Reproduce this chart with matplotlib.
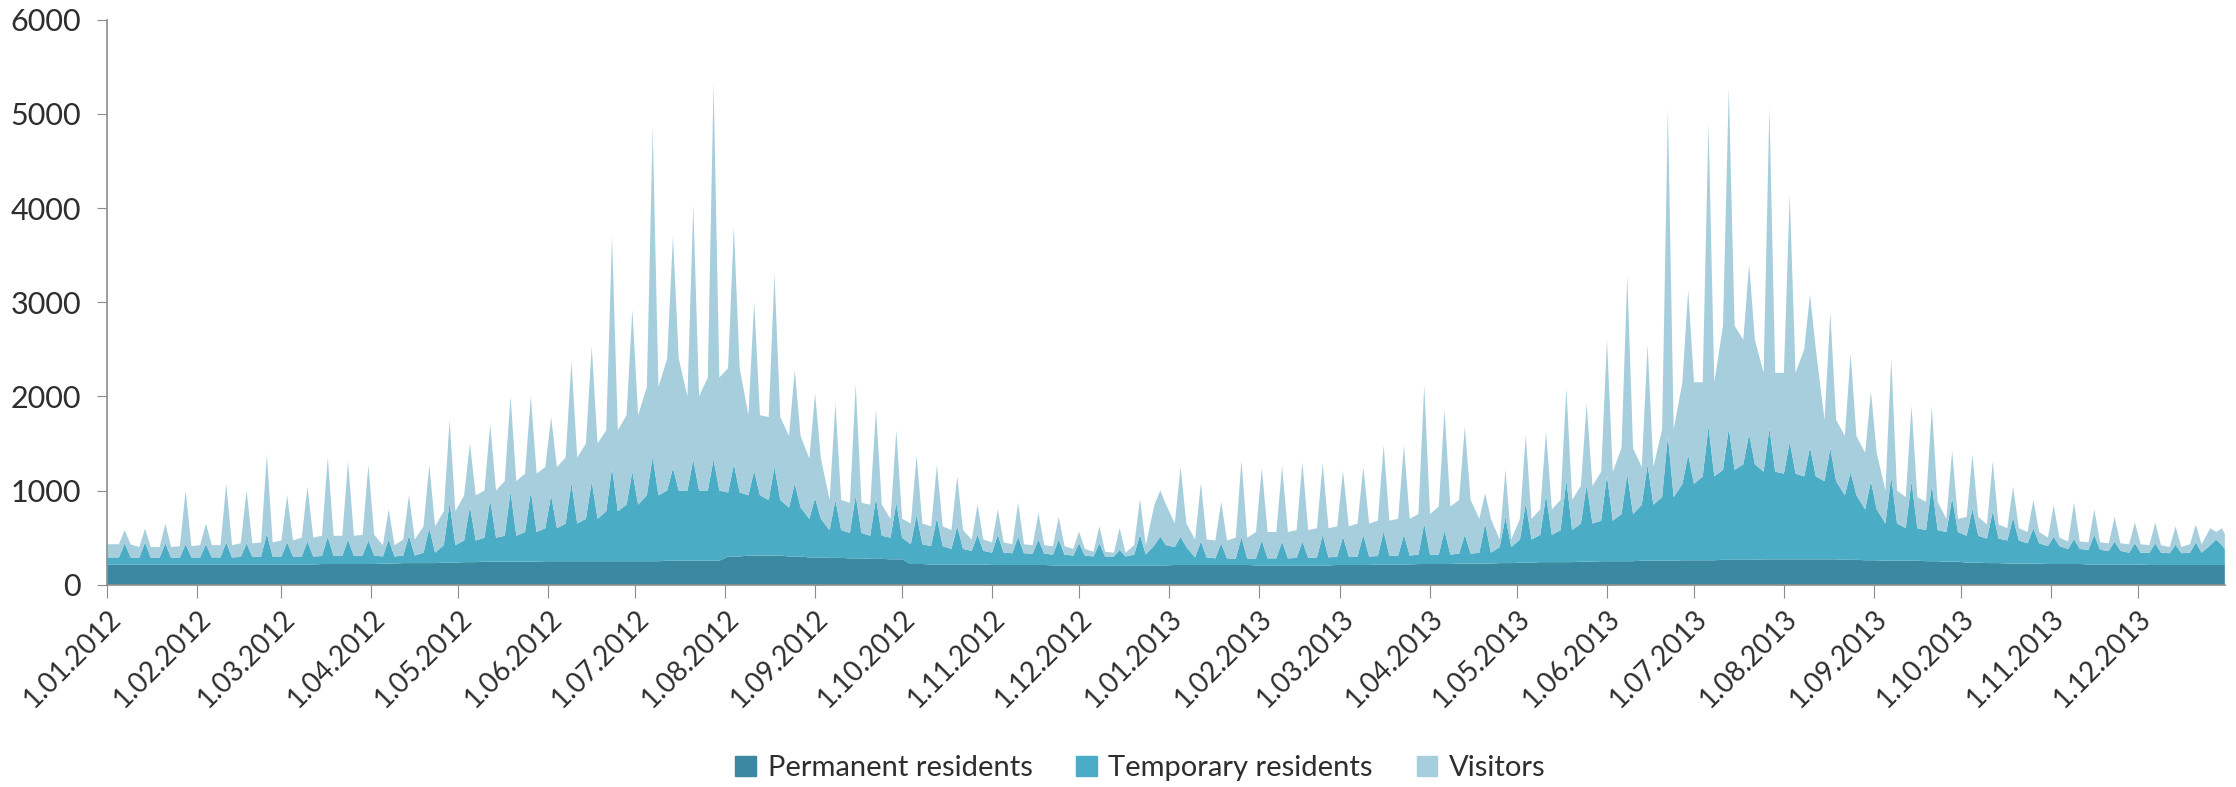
import numpy as np
import pandas as pd
import matplotlib
matplotlib.use('Agg')
import matplotlib.pyplot as plt
from matplotlib.patches import Patch

# readings per week (Sunday..Saturday); the weekly spike falls on the Saturday
perm_week = [215, 215, 215, 215, 215, 215, 215, 215, 215, 215,
             220, 220, 220, 225, 230, 230, 235, 240, 245, 245,
             245, 250, 250, 250, 250, 250, 250, 255, 255, 255,
             300, 310, 310, 300, 290, 285, 280, 275, 270, 220,
             215, 215, 215, 210, 210, 210, 205, 205, 205, 205,
             205, 205, 210, 210, 210, 210, 205, 205, 205, 205,
             210, 210, 215, 215, 220, 220, 225, 225, 230, 235,
             240, 240, 245, 250, 250, 255, 255, 260, 260, 265,
             265, 270, 270, 270, 270, 265, 260, 255, 255, 250,
             245, 235, 230, 225, 225, 220, 220, 215, 215, 215,
             210, 210, 210, 210, 210]

temp_base = [75, 70, 70, 75, 75, 75, 80, 85, 85, 85,
             85, 85, 90, 75, 80, 110, 185, 230, 255, 275,
             315, 350, 400, 450, 530, 600, 700, 745, 745, 745,
             680, 640, 590, 520, 410, 295, 270, 245, 230, 210,
             195, 165, 145, 130, 125, 120, 115, 105, 95, 95,
             115, 215, 190, 80, 70, 65, 75, 75, 80, 85,
             90, 90, 90, 95, 100, 100, 105, 115, 170, 245,
             290, 340, 405, 430, 500, 595, 675, 810, 890, 955,
             1015, 930, 910, 880, 830, 685, 540, 395, 345, 330,
             315, 285, 260, 245, 215, 190, 160, 155, 145, 125,
             130, 125, 130, 210, 170]

temp_peak = [225, 235, 225, 215, 215, 235, 225, 325, 235, 245,
             290, 260, 250, 255, 290, 370, 630, 590, 655, 745,
             745, 700, 830, 850, 990, 950, 1110, 985, 1075, 1075,
             980, 900, 940, 775, 630, 615, 670, 645, 600, 520,
             495, 405, 315, 320, 300, 270, 275, 235, 235, 165,
             325, 305, 300, 250, 230, 295, 265, 255, 255, 325,
             300, 320, 350, 315, 430, 355, 305, 425, 490, 630,
             710, 870, 815, 910, 925, 1020, 1325, 1120, 1420, 1395,
             1335, 1390, 1250, 1190, 1180, 930, 840, 895, 840, 810,
             675, 575, 550, 485, 375, 290, 265, 315, 245, 225,
             230, 215, 240, 270]

vis_base = [140, 115, 115, 120, 130, 130, 145, 150, 170, 200,
            215, 215, 220, 120, 170, 280, 360, 480, 500, 580,
            620, 650, 700, 800, 860, 950, 1150, 1400, 1000, 1200,
            1320, 850, 880, 760, 640, 320, 320, 330, 200, 220,
            210, 200, 120, 110, 95, 90, 90, 70, 50, 40,
            100, 430, 250, 190, 190, 225, 280, 280, 295, 310,
            320, 350, 375, 390, 430, 510, 570, 360, 80, 220,
            270, 320, 400, 520, 700, 400, 720, 1080, 1000, 1530,
            1320, 1050, 1070, 1350, 650, 630, 600, 350, 330, 300,
            140, 200, 150, 130, 120, 90, 80, 80, 80, 90,
            80, 65, 90, 180, 160]

vis_peak = [140, 145, 210, 570, 220, 620, 560, 840, 500, 580,
            840, 830, 800, 320, 430, 670, 885, 670, 800, 1010,
            1010, 830, 1290, 1430, 2460, 1720, 3500, 2460, 2700, 4000,
            2520, 1790, 2050, 1205, 1110, 1030, 1180, 940, 770, 630,
            560, 530, 320, 270, 360, 280, 240, 125, 180, 230,
            380, 490, 740, 620, 440, 815, 770, 800, 840, 760,
            700, 720, 915, 950, 1470, 1285, 1150, 320, 500, 725,
            675, 975, 860, 1440, 2105, 1275, 3470, 1750, 3220, 3610,
            1800, 3410, 2630, 1620, 1440, 1255, 950, 1250, 805, 830,
            500, 570, 530, 330, 300, 330, 385, 270, 260, 220,
            220, 195, 190, 80]

labels = ['Permanent residents', 'Temporary residents', 'Visitors']
colors = ['#3A89A1', '#4BACC6', '#A6CEDC']

start = pd.Timestamp('2012-01-01')
end = pd.Timestamp('2013-12-31')
saturdays = pd.date_range('2012-01-07', '2013-12-28', freq='7D')

# sample points: Jan 1, then Thursday (base), Saturday (peak), Monday (base) of each week, Dec 31
x = [start]
perm, temp, vis = [perm_week[0]], [temp_base[0]], [vis_base[0]]
for w, sat in enumerate(saturdays):
    x += [sat - pd.Timedelta(days=2), sat, sat + pd.Timedelta(days=2)]
    perm += [perm_week[w]] * 3
    temp += [temp_base[w], temp_peak[w], temp_base[w]]
    vis += [vis_base[w], vis_peak[w], vis_base[w]]
x.append(end)
perm.append(perm_week[-1])
temp.append(temp_base[-1])
vis.append(vis_base[-1])

plt.rcParams['font.family'] = ['Lato', 'DejaVu Sans']

fig = plt.figure(figsize=(22.36, 7.87), dpi=100)
ax = fig.add_axes([0.048, 0.257, 0.947, 0.718])

ax.stackplot(x, perm, temp, vis, colors=colors, linewidth=0)

ax.set_xlim(start, end)
ax.set_ylim(0, 6000)
ax.set_yticks(range(0, 6001, 1000))

months = pd.date_range('2012-01-01', '2013-12-01', freq='MS')
ax.set_xticks(months)
ax.set_xticklabels([f"{d.day}.{d:%m.%Y}" for d in months], rotation=45,
                   ha='right', rotation_mode='anchor')

for s in ['top', 'right']:
    ax.spines[s].set_visible(False)
for s in ['left', 'bottom']:
    ax.spines[s].set_color('#8C8C8C')
    ax.spines[s].set_linewidth(1.2)
ax.tick_params(axis='x', length=9, color='#8C8C8C', labelsize=20, labelcolor='#2E2E2E', pad=6)
ax.tick_params(axis='y', length=7, color='#8C8C8C', labelsize=22, labelcolor='#2E2E2E', pad=12)

handles = [Patch(color=c, label=l) for c, l in zip(colors, labels)]
fig.legend(handles=handles, loc='center', bbox_to_anchor=(0.51, 0.024), ncol=3,
           frameon=False, fontsize=21, handlelength=0.7, handleheight=0.7,
           handletextpad=0.4, columnspacing=1.5, labelcolor='#2E2E2E')

fig.savefig('out.png', dpi=100)
